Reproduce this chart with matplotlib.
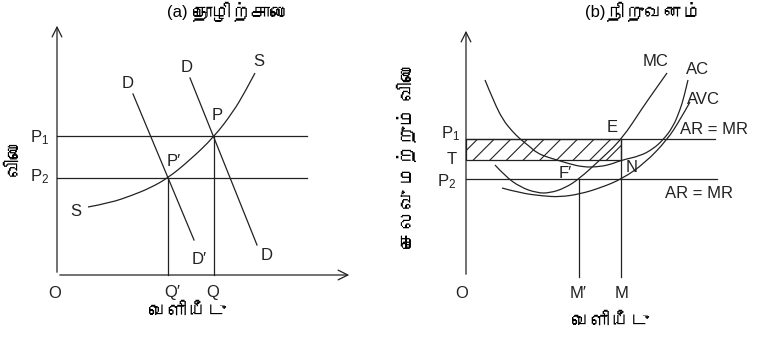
import matplotlib
matplotlib.use("Agg")
import matplotlib.pyplot as plt
from matplotlib import font_manager
from matplotlib.ft2font import FT2Font
from matplotlib.path import Path
from matplotlib.patches import PathPatch, Rectangle

# ---- panel (a): industry ----
p1_a, p2_a = 139, 97          # price levels
q1_a, q_a = 111, 157          # Q', Q
s_x = [31, 53, 76, 93, 111, 133, 157, 176, 188, 198]
s_y = [68, 72, 80, 87, 97, 115, 138, 163, 183, 202]
d_x = [133, 200]
d_y = [197, 30]
d1_x = [76, 137]
d1_y = [181, 35]

# ---- panel (b): firm ----
p1_b, t_b, p2_b = 138, 117, 98
m1_b, m_b = 113, 155          # M', M
mc_x = [29, 39, 54, 71, 84, 99, 113, 134, 156, 177, 189, 201]
mc_y = [112, 101, 90, 84, 84, 89, 98, 117, 138, 170, 187, 204]
ac_x = [19, 28, 37, 46, 54, 63, 71, 81, 91, 104, 117, 130, 143, 156, 174, 187, 197, 207, 214, 218, 222]
ac_y = [197, 175, 157, 146, 138, 131, 124, 120, 117, 113, 110, 110, 112, 117, 121, 128, 137, 150, 167, 180, 197]
avc_x = [36, 54, 77, 94, 114, 134, 156, 179, 201, 214, 224]
avc_y = [89, 84, 81, 80, 83, 89, 98, 114, 137, 157, 175]


def find_tamil():
    for f in font_manager.fontManager.ttflist:
        try:
            if 0x0BB5 in FT2Font(f.fname).get_charmap():
                return f.name
        except Exception:
            pass
    return None


fams = ["Liberation Sans"]
tam = find_tamil()
if tam:
    fams.append(tam)
fams.append("DejaVu Sans")
plt.rcParams["font.family"] = fams
plt.rcParams["mathtext.fontset"] = "custom"
plt.rcParams["mathtext.rm"] = "Liberation Sans"
plt.rcParams["mathtext.it"] = "Liberation Sans"
plt.rcParams["hatch.linewidth"] = 0.8

INK = "#222222"
LW = 0.9
FS = 12      # latin labels
TFS = 14     # tamil text


def smooth(ax, xs, ys):
    # quadratic pieces through the midpoints of the traced points
    pts = list(zip(xs, ys))
    verts = [pts[0]]
    codes = [Path.MOVETO]
    for i in range(1, len(pts) - 1):
        if i == len(pts) - 2:
            end = pts[-1]
        else:
            end = ((pts[i][0] + pts[i + 1][0]) / 2, (pts[i][1] + pts[i + 1][1]) / 2)
        verts += [pts[i], end]
        codes += [Path.CURVE3, Path.CURVE3]
    ax.add_patch(PathPatch(Path(verts, codes), fc="none", ec=INK, lw=LW))


def axes_arrows(ax, top, right):
    arr = dict(arrowstyle="->,head_length=0.7,head_width=0.35", lw=LW, color=INK)
    ax.annotate("", xy=(0, top), xytext=(0, 0), arrowprops=arr)
    ax.annotate("", xy=(right, 0), xytext=(0, 0), arrowprops=arr)


fig = plt.figure(figsize=(7.57, 3.39), dpi=100)

# panel a
ax = fig.add_axes([0, 0, 378 / 757, 1])
ax.set_xlim(-57, 321)
ax.set_ylim(-64, 275)
ax.axis("off")
axes_arrows(ax, 252, 295)
ax.plot([0, 250], [p1_a, p1_a], color=INK, lw=LW)
ax.plot([0, 250], [p2_a, p2_a], color=INK, lw=LW)
ax.plot([q1_a, q1_a], [0, p2_a], color=INK, lw=LW)
ax.plot([q_a, q_a], [0, p1_a], color=INK, lw=LW)
smooth(ax, s_x, s_y)
ax.plot(d_x, d_y, color=INK, lw=LW)
ax.plot(d1_x, d1_y, color=INK, lw=LW)
for txt, x, y in [("D", 130, 208), ("S", 202, 213), ("D", 71, 192), ("P", 160, 160),
                  ("P\u2032", 117, 114), ("P$_1$", -17, 137), ("P$_2$", -17, 98),
                  ("S", 19, 64), ("D\u2032", 142, 15), ("D", 210, 20),
                  ("O", -2, -18), ("Q\u2032", 115, -18), ("Q", 156, -18)]:
    ax.text(x, y, txt, fontsize=FS, ha="center", va="center", color=INK)
ax.text(120, 262, "(a)", fontsize=FS, ha="center", va="center", color="black")
ax.text(136, 262, "தொழிற்சாலை", fontsize=TFS, ha="left", va="center", color="black")
ax.text(131, -37, "வெளியீடு", fontsize=TFS, ha="center", va="center", color="black")
ax.text(-42, 118, "விலை", fontsize=TFS, ha="center", va="center", rotation=90, color="black")

# panel b
bx = fig.add_axes([378 / 757, 0, 379 / 757, 1])
bx.set_xlim(-88, 291)
bx.set_ylim(-62, 277)
bx.axis("off")
axes_arrows(bx, 249, 292)
bx.add_patch(Rectangle((0, t_b), m_b, p1_b - t_b, fc="none", ec=INK, lw=LW, hatch="//"))
bx.plot([0, 249], [p1_b, p1_b], color=INK, lw=LW)
bx.plot([0, 251], [p2_b, p2_b], color=INK, lw=LW)
bx.plot([m1_b, m1_b], [0, p2_b], color=INK, lw=LW)
bx.plot([m_b, m_b], [0, p1_b], color=INK, lw=LW)
smooth(bx, mc_x, mc_y)
smooth(bx, ac_x, ac_y)
smooth(bx, avc_x, avc_y)
for txt, x, y in [("MC", 190, 215), ("AC", 232, 207), ("AVC", 237, 177), ("E", 146, 149),
                  ("AR = MR", 248, 147), ("N", 166, 110), ("F\u2032", 99, 104),
                  ("AR = MR", 233, 84), ("P$_1$", -15, 143), ("T", -14, 117),
                  ("P$_2$", -19, 95), ("O", -4, -16), ("M\u2032", 112, -16), ("M", 156, -16)]:
    bx.text(x, y, txt, fontsize=FS, ha="center", va="center", color=INK)
bx.text(129, 264, "(b)", fontsize=FS, ha="center", va="center", color="black")
bx.text(140, 264, "நிறுவனம்", fontsize=TFS, ha="left", va="center", color="black")
bx.text(145, -45, "வெளியீடு", fontsize=TFS, ha="center", va="center", color="black")
bx.text(-58, 122, "செலவு மற்றும் விலை", fontsize=TFS, ha="center", va="center",
        rotation=90, color="black")

fig.savefig("out.png", dpi=100)
